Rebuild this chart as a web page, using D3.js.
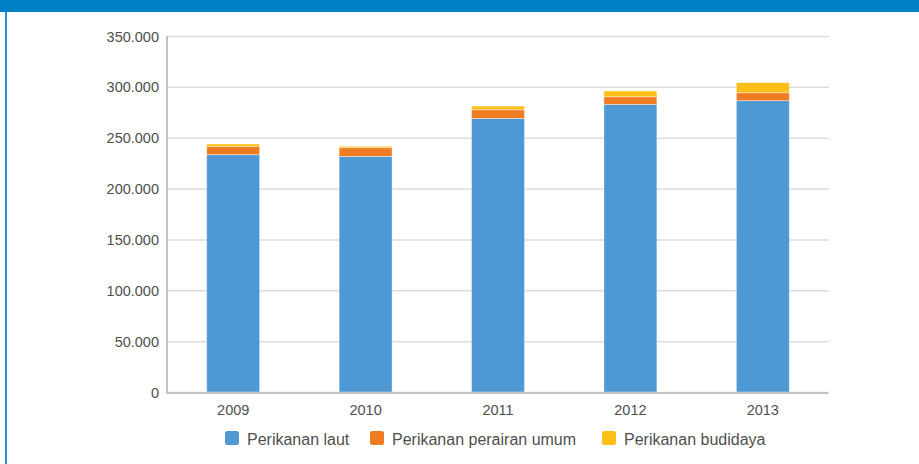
<!DOCTYPE html>
<html>
<head>
<meta charset="utf-8">
<script src="https://cdn.jsdelivr.net/npm/d3@7/dist/d3.min.js"></script>
<style>
  body { margin: 0; background: #fff; }
  svg text { font-family: "Liberation Sans", Arial, sans-serif; fill: #4f4f4f; }
</style>
</head>
<body>
<div id="chart"></div>
<script>
// datos del grafico
var years = ["2009", "2010", "2011", "2012", "2013"];
var laut = [233300, 231700, 269000, 282800, 286400];
var perairanUmum = [8000, 8500, 8500, 7500, 7800];
var budidaya = [2500, 1400, 3600, 5600, 9900];
var seriesNames = ["Perikanan laut", "Perikanan perairan umum", "Perikanan budidaya"];
var seriesColors = ["#4e98d3", "#ef7c22", "#fdbf15"];
var yTicks = [0, 50000, 100000, 150000, 200000, 250000, 300000, 350000];

var W = 919, H = 464;
var margin = {top: 36, right: 90, bottom: 72, left: 167};
var width = 829 - margin.left, height = 392 - margin.top;

var locale = d3.formatLocale({decimal: ",", thousands: ".", grouping: [3], currency: ["", ""]});
var fmt = locale.format(",.0f");

var svg = d3.select("#chart").append("svg")
    .attr("width", W).attr("height", H);

// marco
svg.append("rect").attr("x", 0).attr("y", 0).attr("width", W).attr("height", 12).attr("fill", "#0080c4");
svg.append("rect").attr("x", 5).attr("y", 12).attr("width", 2).attr("height", H - 12).attr("fill", "#1e93dc");

var g = svg.append("g").attr("transform", "translate(" + margin.left + "," + margin.top + ")");

var x = d3.scaleBand().domain(years).range([0, width]).paddingInner(0.6).paddingOuter(0.3);
var y = d3.scaleLinear().domain([0, 350000]).range([height, 0]);

// grid
g.append("g")
    .call(d3.axisLeft(y).tickValues(yTicks).tickSize(-width).tickFormat(""))
    .call(function(s) {
      s.select(".domain").remove();
      s.selectAll("line").attr("stroke", "#dcdcdc").attr("stroke-width", 1.5);
    });

// y labels
g.append("g")
    .call(d3.axisLeft(y).tickValues(yTicks).tickSize(0).tickPadding(8).tickFormat(function(d) { return d === 0 ? "0" : fmt(d); }))
    .call(function(s) {
      s.select(".domain").remove();
      s.selectAll("text").attr("font-size", 14.5).attr("dy", "0.35em");
    });

// stack
var rows = years.map(function(yr, i) {
  return {year: yr, a: laut[i], b: perairanUmum[i], c: budidaya[i]};
});
var stack = d3.stack().keys(["a", "b", "c"])(rows);

g.selectAll("g.serie")
    .data(stack)
  .enter().append("g")
    .attr("class", "serie")
    .attr("fill", function(d, i) { return seriesColors[i]; })
  .selectAll("rect")
    .data(function(d) { return d; })
  .enter().append("rect")
    .attr("x", function(d) { return x(d.data.year); })
    .attr("width", x.bandwidth())
    .attr("y", function(d) { return y(d[1]); })
    .attr("height", function(d) { return y(d[0]) - y(d[1]); })
    .attr("stroke", "#ffffff")
    .attr("stroke-opacity", 0.5)
    .attr("stroke-width", 0.8);

// ejes
g.append("line").attr("x1", 0).attr("x2", 0).attr("y1", 0).attr("y2", height + 1)
    .attr("stroke", "#c0c0c0").attr("stroke-width", 2);
g.append("line").attr("x1", -1).attr("x2", width - 1).attr("y1", height + 1).attr("y2", height + 1)
    .attr("stroke", "#c0c0c0").attr("stroke-width", 2);

g.append("g")
    .attr("transform", "translate(0," + (height + 2) + ")")
    .call(d3.axisBottom(x).tickSize(0).tickPadding(11))
    .call(function(s) {
      s.select(".domain").remove();
      s.selectAll("text").attr("font-size", 14.5);
    });

// leyenda
var legX = [225, 370, 602];
var leg = svg.append("g");
seriesNames.forEach(function(n, i) {
  leg.append("rect").attr("x", legX[i]).attr("y", 431).attr("width", 14).attr("height", 14)
      .attr("rx", 2.5).attr("fill", seriesColors[i]);
  leg.append("text").attr("x", legX[i] + 22).attr("y", 445).attr("font-size", 16).text(n);
});
</script>
</body>
</html>
